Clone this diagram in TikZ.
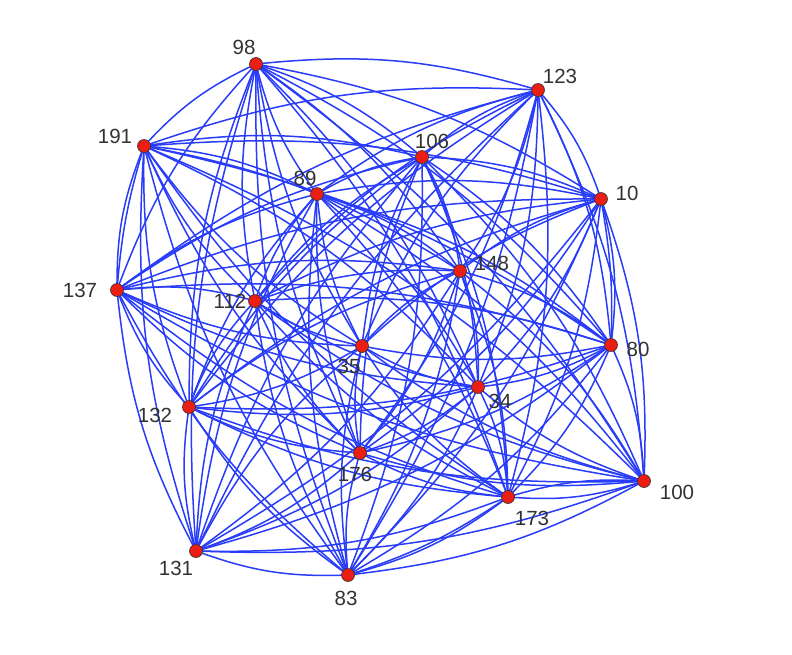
\documentclass[tikz,border=0pt]{standalone}
\usepackage{fontspec}
\setmainfont{Liberation Sans}
\usetikzlibrary{calc}
\definecolor{edgeblue}{RGB}{40,60,250}
\definecolor{vertred}{RGB}{235,30,20}
\definecolor{labgray}{RGB}{50,50,50}
\begin{document}
\begin{tikzpicture}[x=1pt,y=-1pt,
  vert/.style={circle,fill=vertred,draw=black!80,line width=0.6pt,minimum size=13pt,inner sep=0pt},
  edge/.style={draw=edgeblue,line width=1.5pt},
  lab/.style={text=labgray,font=\fontsize{20.5}{24}\selectfont,inner sep=0pt}]
\fill[white] (0,0) rectangle (792,654);
\useasboundingbox (0,0) rectangle (792,654);
\coordinate (ctr) at (390,330);
% vertex positions
\coordinate (p98) at (256,64);
\coordinate (p123) at (538,90);
\coordinate (p191) at (144,146);
\coordinate (p106) at (422,157);
\coordinate (p89) at (317,194);
\coordinate (p10) at (601,199);
\coordinate (p148) at (460,271);
\coordinate (p137) at (117,290);
\coordinate (p112) at (255,301);
\coordinate (p80) at (611,345);
\coordinate (p35) at (362,346);
\coordinate (p34) at (478,387);
\coordinate (p132) at (189,407);
\coordinate (p176) at (360,453);
\coordinate (p100) at (644,481);
\coordinate (p173) at (508,497);
\coordinate (p131) at (196,551);
\coordinate (p83) at (348,575);
% edges: every pair, bending away from the centre
\foreach \a [count=\i] in {98,123,191,106,89,10,148,137,112,80,35,34,132,176,100,173,131,83}{
  \foreach \b [count=\j] in {98,123,191,106,89,10,148,137,112,80,35,34,132,176,100,173,131,83}{
    \ifnum\j>\i
      \draw[edge] let \p1=(p\a), \p2=(p\b), \p3=(ctr),
        \n1={-11*sign(((\x2-\x1)/100)*((\y3-\y1)/100)-((\y2-\y1)/100)*((\x3-\x1)/100))}
        in (p\a) to[bend left=\n1] (p\b);
    \fi
  }
}
% extra return edges (lens shapes)
\draw[edge] (p173) to[bend left=10] (p100);
\draw[edge] (p83) to[bend right=8] (p173);
\draw[edge] (p10) to[bend left=6] (p80);
\draw[edge] (p191) to[bend right=6] (p137);
% vertices
\foreach \v in {98,123,191,106,89,10,148,137,112,80,35,34,132,176,100,173,131,83}{
  \node[vert] (n\v) at (p\v) {};
}
% labels
\node[lab] (l98) at (244,47) {98};
\node[lab] (l123) at (560,76) {123};
\node[lab] (l191) at (115,136) {191};
\node[lab] (l106) at (432,141) {106};
\node[lab] (l89) at (305,178) {89};
\node[lab] (l10) at (627,193) {10};
\node[lab] (l148) at (492,263) {148};
\node[lab] (l137) at (80,290) {137};
\node[lab] (l112) at (230,301) {112};
\node[lab] (l80) at (638,349) {80};
\node[lab] (l35) at (349,366) {35};
\node[lab] (l34) at (500,401) {34};
\node[lab] (l132) at (155,415) {132};
\node[lab] (l176) at (355,474) {176};
\node[lab] (l100) at (677,492) {100};
\node[lab] (l173) at (532,518) {173};
\node[lab] (l131) at (176,568) {131};
\node[lab] (l83) at (346,598) {83};
\end{tikzpicture}
\end{document}
